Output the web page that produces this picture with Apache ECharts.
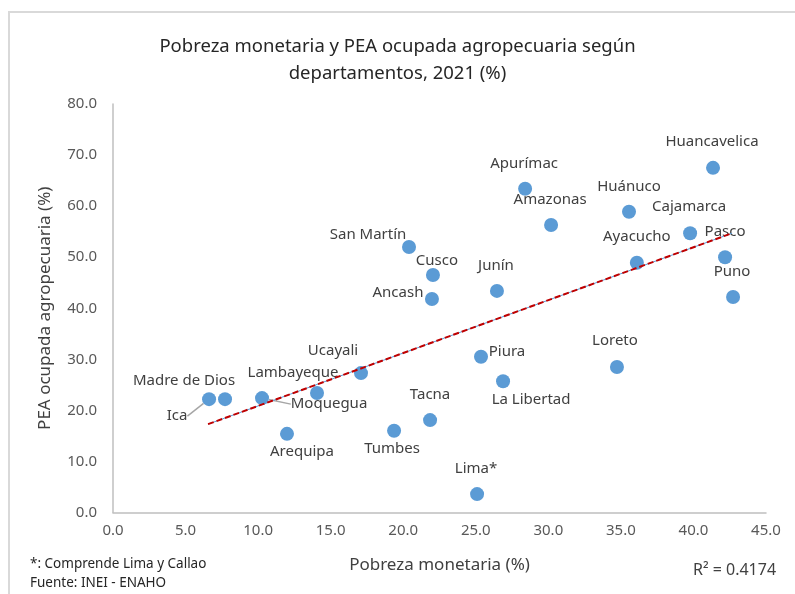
<!DOCTYPE html>
<html><head><meta charset="utf-8">
<script src="https://cdn.jsdelivr.net/npm/echarts@6/dist/echarts.min.js"></script>
<style>html,body{margin:0;padding:0;background:#fff}#c{width:795px;height:594px}</style>
</head><body><div id="c"></div>
<script>
const departamentos = ['Huancavelica','Apurímac','Huánuco','Amazonas','Cajamarca','San Martín','Pasco','Ayacucho','Cusco','Junín','Ancash','Puno','Piura','Loreto','Ucayali','La Libertad','Ica','Madre de Dios','Moquegua','Lambayeque','Arequipa','Tumbes','Tacna','Lima*'];
const pobrezaMonetaria = [41.35, 28.4, 35.56, 30.19, 39.77, 20.4, 42.18, 36.1, 22.05, 26.46, 21.98, 42.73, 25.36, 34.73, 17.09, 26.88, 6.62, 7.72, 10.27, 14.06, 11.99, 19.37, 21.85, 25.09];
const peaAgropecuaria = [67.5, 63.4, 58.9, 56.3, 54.7, 52.0, 50.0, 48.9, 46.5, 43.4, 41.8, 42.2, 30.5, 28.5, 27.3, 25.7, 22.2, 22.2, 22.4, 23.4, 15.4, 16.0, 18.1, 3.6];
const trendX = [6.55, 42.66];
const trendY = [17.3, 54.7];
const titleText = 'Pobreza monetaria y PEA ocupada agropecuaria según\ndepartamentos, 2021 (%)';
const xAxisName = 'Pobreza monetaria (%)';
const yAxisName = 'PEA ocupada agropecuaria (%)';
const notaText = '*: Comprende Lima y Callao';
const fuenteText = 'Fuente: INEI - ENAHO';
const r2Text = 'R² = 0.4174';

// label placement (pixel offsets from the point centre) - styling only
const labelOffsets = {
  'Huancavelica':[-1,-26],'Apurímac':[-1,-25],'Huánuco':[0,-25],'Amazonas':[-1,-25],
  'Cajamarca':[-1,-26],'San Martín':[-41,-12],'Pasco':[0,-25],'Ayacucho':[0,-26],
  'Cusco':[4,-14],'Junín':[-1,-25],'Ancash':[-34,-6],'Puno':[-1,-25],'Piura':[26,-5],
  'Loreto':[-2,-26],'Ucayali':[-28,-22],'La Libertad':[28,18],'Ica':[-32,17],
  'Madre de Dios':[-41,-18],'Moquegua':[67,6],'Lambayeque':[-24,-20],'Arequipa':[15,18],
  'Tumbes':[-2,18],'Tacna':[0,-25],'Lima*':[-1,-25]
};
const withLeader = ['Ica','Moquegua'];

const FONT = 'Noto Sans';
const chart = echarts.init(document.getElementById('c'), null, {renderer:'canvas'});

const scatterData = departamentos.map((n,i)=>{
  const d = {name:n, value:[pobrezaMonetaria[i], peaAgropecuaria[i]]};
  if (withLeader.includes(n)) d.labelLine = {show:true, lineStyle:{color:'#a6a6a6', width:1.5}};
  return d;
});

chart.setOption({
  backgroundColor:'#fff',
  animation:false,
  title:{text:titleText, left:'center', top:28,
    textStyle:{fontFamily:FONT, fontSize:18.5, fontWeight:'normal', color:'#262626', lineHeight:27}},
  grid:{left:113, right:29, top:104, bottom:81.5},
  xAxis:{type:'value', min:0, max:45, interval:5,
    name:xAxisName, nameLocation:'middle', nameGap:44,
    nameTextStyle:{fontFamily:FONT, fontSize:17, color:'#404040'},
    axisLine:{show:true, lineStyle:{color:'#bfbfbf', width:1.5}},
    axisTick:{show:false}, splitLine:{show:false},
    axisLabel:{fontFamily:FONT, fontSize:15, color:'#595959', margin:11, formatter:v=>v.toFixed(1)}},
  yAxis:{type:'value', min:0, max:80, interval:10,
    name:yAxisName, nameLocation:'middle', nameGap:59,
    nameTextStyle:{fontFamily:FONT, fontSize:17, color:'#404040'},
    axisLine:{show:true, lineStyle:{color:'#bfbfbf', width:1.5}},
    axisTick:{show:false}, splitLine:{show:false},
    axisLabel:{fontFamily:FONT, fontSize:15, color:'#595959', margin:16, formatter:v=>v.toFixed(1)}},
  series:[
    {type:'scatter', symbolSize:14, z:2,
      itemStyle:{color:'#5b9bd5', opacity:1},
      label:{show:true, position:'inside', formatter:'{b}',
        fontFamily:FONT, fontSize:15, color:'#404040'},
      labelLayout:function(p){
        const o = labelOffsets[departamentos[p.dataIndex]] || [0,0];
        return {dx:o[0], dy:o[1]};
      },
      data:scatterData},
    {type:'line', z:3, symbol:'none', silent:true,
      lineStyle:{color:'#5b9bd5', width:1},
      data:trendX.map((x,i)=>[x, trendY[i]])},
    {type:'line', z:4, symbol:'none', silent:true,
      lineStyle:{color:'#c00000', width:2, type:[6,3]},
      data:trendX.map((x,i)=>[x, trendY[i]])}
  ],
  graphic:[
    {type:'rect', shape:{x:9, y:12, width:800, height:600}, silent:true, z:-10,
      style:{fill:'none', stroke:'#d9d9d9', lineWidth:2}},
    {type:'text', left:30, top:557, style:{text:notaText, font:'13.5px "Noto Sans"', fill:'#262626'}},
    {type:'text', left:30, top:576, style:{text:fuenteText, font:'13.5px "Noto Sans"', fill:'#262626'}},
    {type:'text', left:693, top:562, style:{text:r2Text, font:'16px "Noto Sans"', fill:'#404040'}}
  ]
});
</script></body></html>
